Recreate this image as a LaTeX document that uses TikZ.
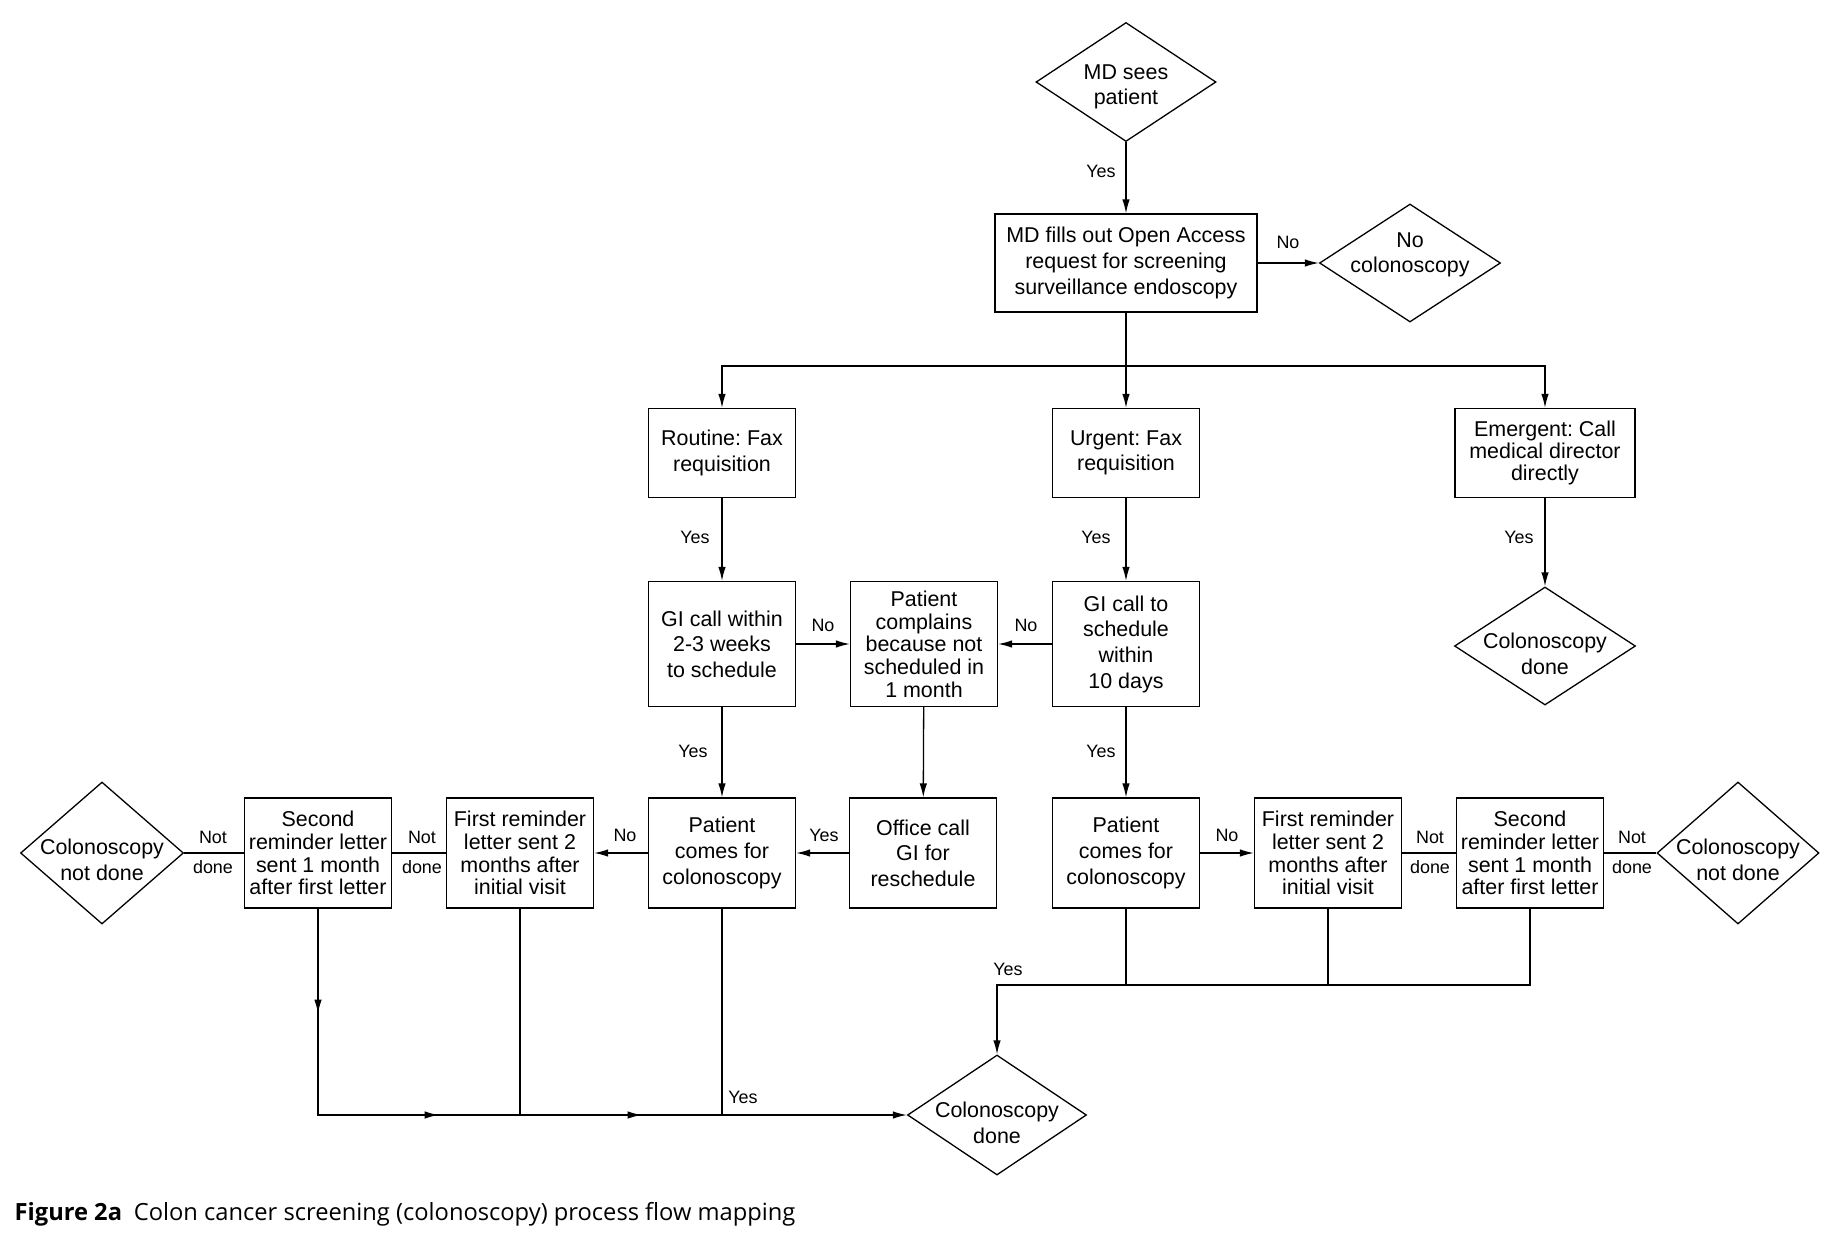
\documentclass[tikz,border=0pt]{standalone}
\usepackage{fontspec}
\setmainfont{Liberation Sans}
\newfontfamily\capfont{Open Sans}
\usetikzlibrary{arrows.meta,calc,positioning,shapes.geometric,decorations.markings}
\newcommand{\boxfont}{\fontsize{6.1}{7.3}\selectfont}
\newcommand{\tightfont}{\fontsize{6.1}{6.45}\selectfont}
\frenchspacing

\begin{document}
\begin{tikzpicture}[
  line width=0.37pt,
  box/.style={draw,rectangle,inner sep=1pt,align=center,font=\boxfont,minimum width=1.47cm},
  decision/.style={draw,diamond,inner sep=0pt},
  dtext/.style={inner sep=0pt,align=center,font=\boxfont},
  lbl/.style={inner sep=0pt,font=\fontsize{5.1}{6}\selectfont},
  arr/.style={-{Latex[length=1.4mm,width=0.75mm]}},
  midarr/.style={postaction={decorate},decoration={markings,
    mark=at position 1.05cm with {\arrow{Latex[length=1.4mm,width=0.75mm]}},
    mark=at position 3.27cm with {\arrow{Latex[length=1.4mm,width=0.75mm]}},
    mark=at position 5.30cm with {\arrow{Latex[length=1.4mm,width=0.75mm]}}}}
]
  \useasboundingbox (0,0) rectangle (18.32,-12.35);
  % demande initiale
  \node[decision,minimum width=1.80cm,minimum height=1.19cm] (mdsees) at (11.26,-0.82) {};
  \node[dtext,yshift=-0.05cm] (mdseesT) at (mdsees) {MD sees\\patient};
  \node[box,minimum width=2.62cm,minimum height=0.98cm] (mdfill) at (11.26,-2.63)
       {MD fills out Open Access\\request for screening\\surveillance endoscopy};
  \node[decision,minimum width=1.81cm,minimum height=1.18cm] (nocol) at (14.10,-2.63) {};
  \node[dtext,yshift=0.08cm] (nocolT) at (nocol) {No\\colonoscopy};
  \draw[arr] (mdsees) -- (mdfill);
  \draw[arr] (mdfill) -- (nocol);
  \node[lbl] (yes1) at (11.01,-1.71) {Yes};
  \node[lbl] (no1) at (12.88,-2.42) {No};
  % trois voies
  \node[box,minimum height=0.89cm] (routine) at (7.22,-4.53) {Routine: Fax\\requisition};
  \node[box,minimum height=0.89cm] (urgent) at (11.26,-4.53) {Urgent: Fax\\requisition};
  \node[box,minimum width=1.80cm,minimum height=0.89cm,font=\fontsize{6.1}{6.15}\selectfont] (emergent) at (15.45,-4.53)
       {Emergent: Call\\medical director\\directly};
  \coordinate (split) at (11.26,-3.66);
  \draw[arr] (mdfill) -- (urgent);
  \draw[arr] (split) -| (routine);
  \draw[arr] (split) -| (emergent);
  % appels GI
  \node[box,minimum height=1.25cm] (giwithin) at (7.22,-6.44) {GI call within\\2-3 weeks\\to schedule};
  \node[box,minimum height=1.25cm,font=\tightfont] (complain) at (9.24,-6.44)
       {Patient\\complains\\because not\\scheduled in\\1 month};
  \node[box,minimum height=1.25cm] (gitendays) at (11.26,-6.44) {GI call to\\schedule\\within\\10 days};
  \node[decision,minimum width=1.81cm,minimum height=1.18cm] (doneE) at (15.45,-6.46) {};
  \node[dtext,yshift=-0.08cm] (doneET) at (doneE) {Colonoscopy\\done};
  \draw[arr] (routine) -- (giwithin);
  \draw[arr] (urgent) -- (gitendays);
  \draw[arr] (emergent) -- (doneE);
  \draw[arr] (giwithin) -- (complain);
  \draw[arr] (gitendays) -- (complain);
  \node[lbl] (yesR) at (6.95,-5.37) {Yes};
  \node[lbl] (yesU) at (10.96,-5.37) {Yes};
  \node[lbl] (yesE) at (15.19,-5.37) {Yes};
  \node[lbl] (noA) at (8.23,-6.25) {No};
  \node[lbl] (noB) at (10.26,-6.25) {No};
  % rappels
  \node[decision,minimum width=1.63cm,minimum height=1.42cm] (notdoneL) at (1.02,-8.53) {};
  \node[dtext,yshift=-0.07cm] (notdoneLT) at (notdoneL) {Colonoscopy\\not done};
  \node[box,minimum height=1.10cm,font=\tightfont] (secondL) at (3.18,-8.53)
       {Second\\reminder letter\\sent 1 month\\after first letter};
  \node[box,minimum height=1.10cm,font=\tightfont] (firstL) at (5.20,-8.53)
       {First reminder\\letter sent 2\\months after\\initial visit};
  \node[box,minimum height=1.10cm] (patientL) at (7.22,-8.53) {Patient\\comes for\\colonoscopy};
  \node[box,minimum height=1.10cm] (office) at (9.23,-8.53) {Office call\\GI for\\reschedule};
  \node[box,minimum height=1.10cm] (patientR) at (11.26,-8.53) {Patient\\comes for\\colonoscopy};
  \node[box,minimum height=1.10cm,font=\tightfont] (firstR) at (13.28,-8.53)
       {First reminder\\letter sent 2\\months after\\initial visit};
  \node[box,minimum height=1.10cm,font=\tightfont] (secondR) at (15.30,-8.53)
       {Second\\reminder letter\\sent 1 month\\after first letter};
  \node[decision,minimum width=1.62cm,minimum height=1.42cm] (notdoneR) at (17.38,-8.53) {};
  \node[dtext,yshift=-0.07cm] (notdoneRT) at (notdoneR) {Colonoscopy\\not done};
  \draw[arr] (giwithin) -- (patientL);
  \draw[arr] (gitendays) -- (patientR);
  \draw[arr] (complain) -- (office);
  \draw[arr] (office) -- (patientL);
  \draw[arr] (patientL) -- (firstL);
  \draw (firstL) -- (secondL);
  \draw (secondL) -- (notdoneL);
  \draw[arr] (patientR) -- (firstR);
  \draw (firstR) -- (secondR);
  \draw (secondR) -- (notdoneR);
  \node[lbl] (yesG) at (6.93,-7.51) {Yes};
  \node[lbl] (yesH) at (11.01,-7.51) {Yes};
  \node[lbl] (noC) at (6.25,-8.35) {No};
  \node[lbl] (yesO) at (8.24,-8.35) {Yes};
  \node[lbl] (noD) at (12.27,-8.35) {No};
  \foreach \x/\n in {2.13/a,4.22/b,14.30/c,16.32/d} {
    \node[lbl] (not\n) at (\x,-8.37) {Not};
    \node[lbl] (done\n) at (\x,-8.67) {done};
  }
  % coloscopie faite
  \node[decision,minimum width=1.79cm,minimum height=1.20cm] (doneB) at (9.97,-11.15) {};
  \node[dtext,yshift=-0.08cm] (doneBT) at (doneB) {Colonoscopy\\done};
  \draw[arr,midarr] (secondL) |- (doneB);
  \draw (firstL) -- (firstL |- doneB);
  \draw (patientL) -- (patientL |- doneB);
  \coordinate (busR) at (9.97,-9.85);
  \draw[arr] (patientR) |- (busR) -- (doneB);
  \draw (firstR) -- (firstR |- busR);
  \draw (secondR) |- (busR);
  \node[lbl] (yesB) at (7.43,-10.97) {Yes};
  \node[lbl] (yesT) at (10.08,-9.69) {Yes};
  % legende
  \node[anchor=base west,inner sep=0pt,font=\capfont\fontsize{6.74}{8}\selectfont] (caption) at (0.14,-12.20)
       {\textbf{Figure 2a}\enspace Colon cancer screening (colonoscopy) process flow mapping};
\end{tikzpicture}
\end{document}
